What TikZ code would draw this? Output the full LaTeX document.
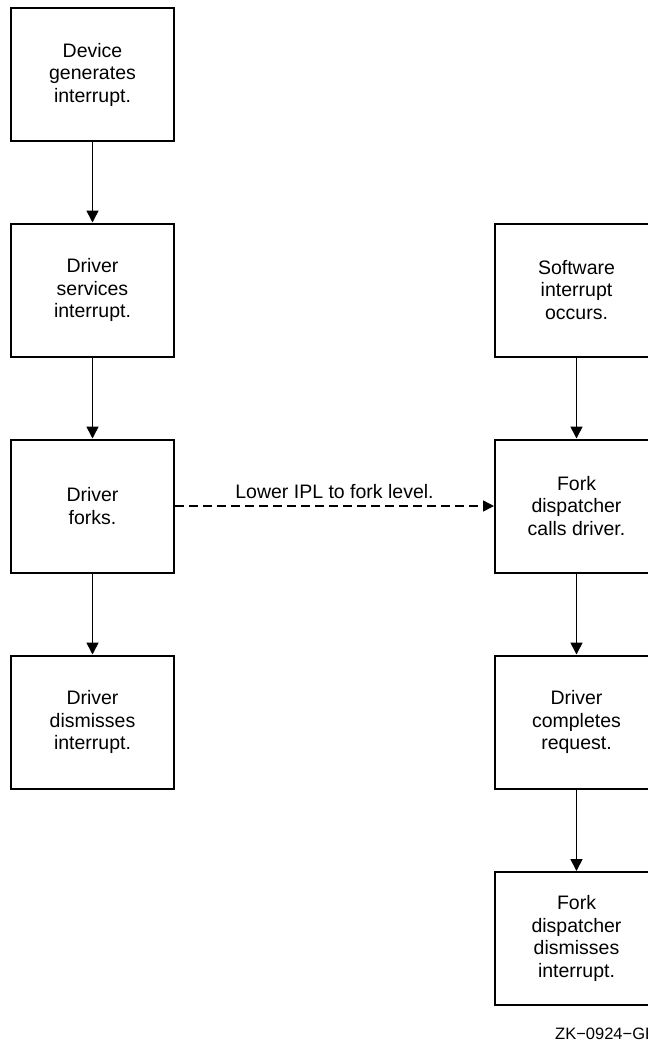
\documentclass[tikz,border=0pt]{standalone}
\usepackage{fontspec}
\setmainfont{Liberation Sans}
\usetikzlibrary{arrows.meta}
\begin{document}
\begin{tikzpicture}[x=1pt,y=-1pt,
  box/.style={draw,line width=2pt,minimum width=163pt,minimum height=133pt,inner sep=0pt,
    align=center,font=\fontsize{19.5}{22.5}\selectfont},
  arr/.style={line width=1.6pt,-{Triangle[length=12pt,width=12pt]}},
  dasharr/.style={line width=1.5pt,-{Triangle[length=11pt,width=11pt]},dash pattern=on 9pt off 5pt}]
\useasboundingbox (0,0) rectangle (648,1042);
\clip (0,0) rectangle (648,1042);
\node[box] (d1) at (92.5,74.5) {Device\\generates\\interrupt.};
\node[box] (d2) at (92.5,290) {Driver\\services\\interrupt.};
\node[box] (d3) at (92.5,506) {Driver\\forks.};
\node[box] (d4) at (92.5,722) {Driver\\dismisses\\interrupt.};
\node[box] (r1) at (576.5,290) {Software\\interrupt\\occurs.};
\node[box] (r2) at (576.5,506) {Fork\\dispatcher\\calls driver.};
\node[box] (r3) at (576.5,722) {Driver\\completes\\request.};
\node[box] (r4) at (576.5,938.5) {Fork\\dispatcher\\dismisses\\interrupt.};
\draw[arr] (d1) -- (d2);
\draw[arr] (d2) -- (d3);
\draw[arr] (d3) -- (d4);
\draw[arr] (r1) -- (r2);
\draw[arr] (r2) -- (r3);
\draw[arr] (r3) -- (r4);
\draw[dasharr] (d3.east) -- node[above=3pt,font=\fontsize{19.5}{22}\selectfont] (lbl) {Lower IPL to fork level.} (r2.west);
\node[anchor=base west,inner sep=0pt,font=\fontsize{16.5}{18}\selectfont] (zk) at (555,1039) {ZK−0924−GE};
\end{tikzpicture}
\end{document}
